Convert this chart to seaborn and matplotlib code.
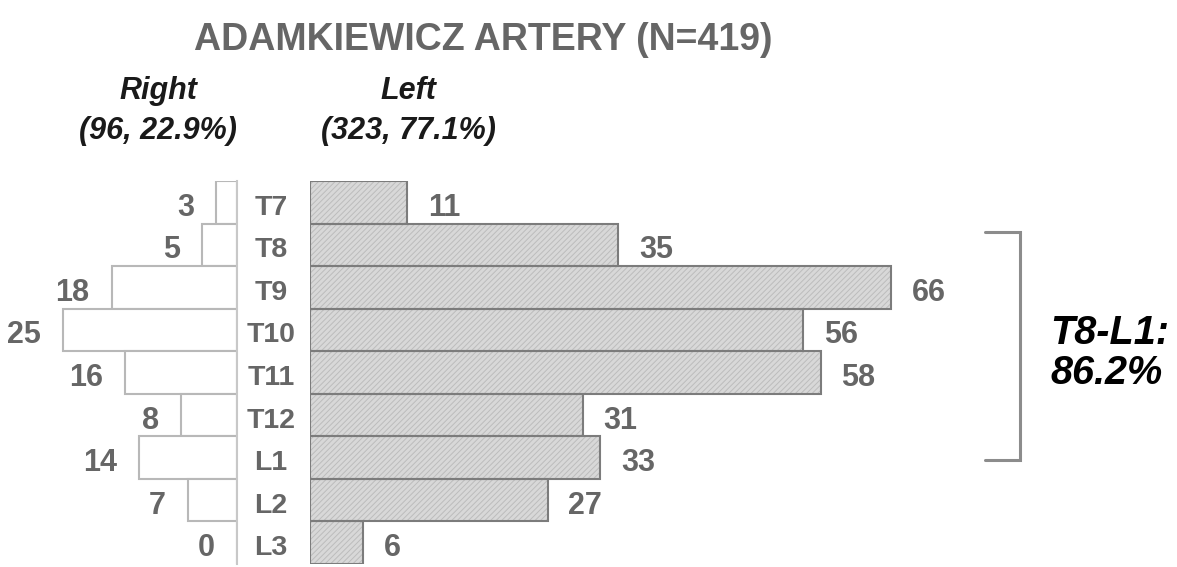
import matplotlib
matplotlib.use('Agg')
import matplotlib.pyplot as plt
import seaborn as sns
import pandas as pd

# Data
levels = ['T7', 'T8', 'T9', 'T10', 'T11', 'T12', 'L1', 'L2', 'L3']
right_side = [3, 5, 18, 25, 16, 8, 14, 7, 0]
left_side = [11, 35, 66, 56, 58, 31, 33, 27, 6]
right_header = 'Right\n(96, 22.9%)'
left_header = 'Left\n(323, 77.1%)'
title = 'ADAMKIEWICZ ARTERY (N=419)'
bracket_text = 'T8-L1:\n86.2%'

df = pd.DataFrame({'level': levels, 'right': right_side, 'left': left_side})

sns.set_style('white')
plt.rcParams['font.family'] = ['Liberation Sans', 'DejaVu Sans']
plt.rcParams['hatch.linewidth'] = 0.7

W, H = 1177, 567
fig = plt.figure(figsize=(W / 100, H / 100), dpi=100)

bottom = 1 - 564 / H
height = (564 - 181) / H
ax_r = fig.add_axes([0, bottom, 237 / W, height])
ax_l = fig.add_axes([310 / W, bottom, (W - 310) / W, height])

gray_txt = '#666666'

# Right-side (left panel) bars: white with grey outline
sns.barplot(data=df, x='right', y='level', ax=ax_r, color='white', width=1.0,
            edgecolor='#b8b8b8', linewidth=1.5, saturation=1)
ax_r.set_xlim(34, 0)

# Left-side (right panel) bars: light grey with fine hatch, then darker outline
sns.barplot(data=df, x='left', y='level', ax=ax_l, color='#d8d8d8', width=1.0,
            edgecolor='#bcbcbc', linewidth=0, saturation=1)
for p in ax_l.patches:
    p.set_hatch('//////')
sns.barplot(data=df, x='left', y='level', ax=ax_l, color='#7c7c7c', width=1.0,
            fill=False, linewidth=1.5, saturation=1)
ax_l.set_xlim(0, 98.5)

for ax in (ax_r, ax_l):
    ax.set_ylim(8.5, -0.5)
    ax.set_xlabel('')
    ax.set_ylabel('')
    ax.set_xticks([])
    ax.set_yticks([])
    for s in ax.spines.values():
        s.set_visible(False)
ax_r.spines['right'].set_visible(True)
ax_r.spines['right'].set_color('#c8c8c8')
ax_r.spines['right'].set_linewidth(1.5)

# value labels
for i, v in enumerate(right_side):
    ax_r.annotate(str(v), (v, i), xytext=(-16, -4), textcoords='offset points',
                  ha='right', va='center', fontsize=22, fontweight='bold', color=gray_txt)
for i, v in enumerate(left_side):
    ax_l.annotate(str(v), (v, i), xytext=(15, -4), textcoords='offset points',
                  ha='left', va='center', fontsize=22, fontweight='bold', color=gray_txt)

# level labels between the two panels
for i, lab in enumerate(levels):
    ax_l.annotate(lab, (0, i), xytext=(-28, -4), textcoords='offset points',
                  ha='center', va='center', fontsize=20.5, fontweight='bold', color=gray_txt,
                  annotation_clip=False)

# bracket T8-L1
bx, bx0 = (1020 - 310) / 8.8, (985 - 310) / 8.8
y0, y1 = 0.70, 6.06
ax_l.plot([bx0, bx, bx, bx0], [y0, y0, y1, y1], color='#8c8c8c', lw=2.2,
          solid_joinstyle='miter', clip_on=False)
fig.text(1050 / W, 1 - 353 / H, bracket_text, ha='left', va='center', fontsize=28.5,
         fontweight='bold', fontstyle='italic', color='black', linespacing=1.1)

# headers and title
fig.text(158 / W, 1 - 111 / H, right_header, ha='center', va='center', fontsize=22,
         fontweight='bold', fontstyle='italic', color='#1a1a1a', linespacing=1.45)
fig.text(408 / W, 1 - 111 / H, left_header, ha='center', va='center', fontsize=22,
         fontweight='bold', fontstyle='italic', color='#1a1a1a', linespacing=1.45)
fig.text(483 / W, 1 - 40 / H, title, ha='center', va='center', fontsize=27,
         fontweight='bold', color=gray_txt)

fig.savefig('out.png', dpi=100)
